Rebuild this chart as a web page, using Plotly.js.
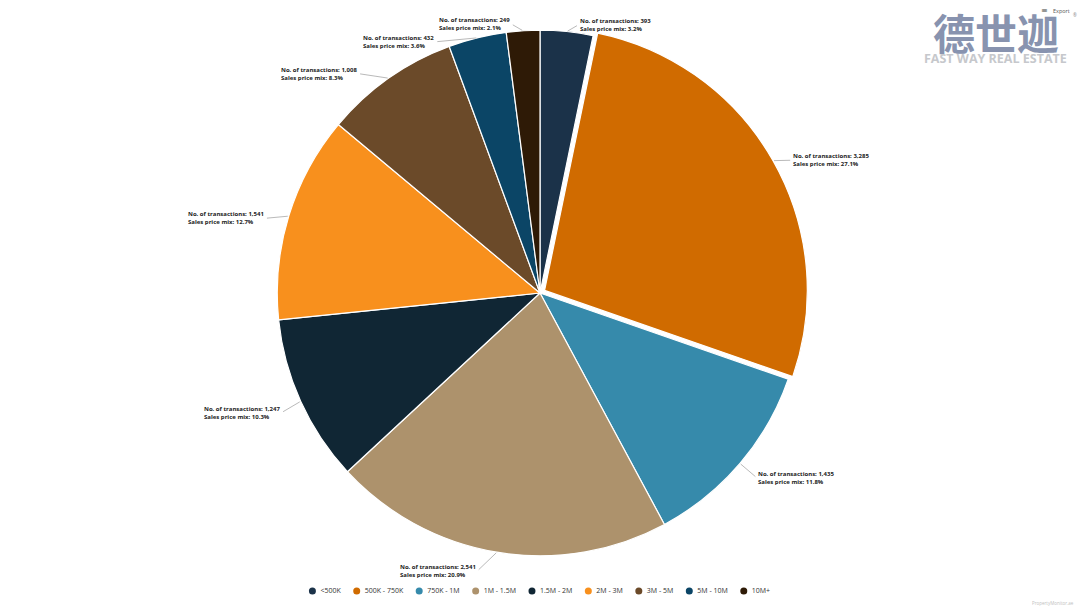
<!DOCTYPE html>
<html>
<head>
<meta charset="utf-8">
<script src="https://cdn.plot.ly/plotly-3.0.1.min.js"></script>
<style>html,body{margin:0;padding:0;background:#fff;}#chart{width:1080px;height:608px;}</style>
</head>
<body>
<div id="chart"></div>
<script>
var categories = ["<500K", "500K - 750K", "750K - 1M", "1M - 1.5M", "1.5M - 2M", "2M - 3M", "3M - 5M", "5M - 10M", "10M+"];
var transactions = [393, 3285, 1435, 2541, 1247, 1541, 1008, 432, 249];
var priceMix = [3.2, 27.1, 11.8, 20.9, 10.3, 12.7, 8.3, 3.6, 2.1];
var colors = ["#1b3249", "#d06b00", "#368aab", "#ad926c", "#102634", "#f8901d", "#6b4a29", "#0b4566", "#2e1a06"];
var pulls = [0, 0.02, 0, 0, 0, 0, 0, 0, 0];

var W = 1080, H = 608;
var pieTop = 25, pieBottom = 561;
var boxH = pieBottom - pieTop;
var maxPull = Math.max.apply(null, pulls);
var R = Math.min(W, boxH) / (2 * (1 + maxPull));
var cx = W / 2, cy = (pieTop + pieBottom) / 2;

function fmt(n) { return n.toLocaleString('en-US'); }

// ---- outside labels, positioned from the slice angles ----
var total = transactions.reduce(function (a, b) { return a + b; }, 0);
var cum = 0;
var info = [];
transactions.forEach(function (v, i) {
  var mid = (cum + v / 2) / total * 2 * Math.PI;
  cum += v;
  var s = Math.sin(mid), c = Math.cos(mid);
  var off = pulls[i] * R;
  var ex = cx + (R + off) * s, ey = cy - (R + off) * c;
  var ly = cy - (R + off + 13) * c + 6;
  info.push({i: i, s: s, ex: ex, ey: ey, ly: ly, ly0: ly});
});
[1, -1].forEach(function (side) {
  var items = info.filter(function (d) { return side > 0 ? d.s >= 0 : d.s < 0; });
  items.sort(function (a, b) { return a.ly - b.ly; });
  var prev = -Infinity;
  items.forEach(function (d) {
    d.ly = Math.max(d.ly, 21, prev + 18);
    prev = d.ly;
  });
});
var RL = 285;
var annotations = info.map(function (d) {
  var right = d.s >= 0;
  var dy = d.ly - cy;
  var circ = Math.sqrt(Math.max(0, RL * RL - dy * dy));
  var edx = Math.abs(d.ex - cx);
  var pushed = d.ly - d.ly0 > 1;
  var dx;
  if (pushed) dx = (circ + edx + 12) / 2;
  else if (circ > edx + 40) dx = edx + 12;
  else dx = circ;
  var tx = cx + (right ? dx : -dx);
  return {
    xref: 'x', yref: 'y', x: d.ex, y: d.ey,
    ax: tx - d.ex, ay: d.ly - d.ey,
    showarrow: true, arrowhead: 0, arrowwidth: 0.6, arrowcolor: '#8a8a8a',
    standoff: 1, startstandoff: 2,
    xanchor: right ? 'left' : 'right', yanchor: 'middle', align: 'left',
    borderpad: 0,
    text: '<b>No. of transactions: ' + fmt(transactions[d.i]) + '<br>Sales price mix: ' + priceMix[d.i].toFixed(1) + '%</b>',
    font: {family: 'Open Sans, sans-serif', size: 6, color: '#222'}
  };
});

// ---- logo and small texts ----
annotations.push({xref: 'x', yref: 'y', x: 996, y: 31, xanchor: 'center', yanchor: 'middle', showarrow: false, borderpad: 0,
  text: '<b>德世迦</b>', font: {family: 'Noto Sans CJK SC, sans-serif', size: 42, weight: 900, color: '#8893af'}});
annotations.push({xref: 'x', yref: 'y', x: 995, y: 58, xanchor: 'center', yanchor: 'middle', showarrow: false, borderpad: 0,
  text: '<b>FAST WAY REAL ESTATE</b>', font: {family: 'Open Sans, sans-serif', size: 12.5, color: '#c6c8cc'}});
annotations.push({xref: 'x', yref: 'y', x: 1052, y: 11, xanchor: 'left', yanchor: 'middle', showarrow: false, borderpad: 0,
  text: 'Export', font: {family: 'Open Sans, sans-serif', size: 5.5, color: '#555'}});
annotations.push({xref: 'x', yref: 'y', x: 1044, y: 10, xanchor: 'center', yanchor: 'middle', showarrow: false, borderpad: 0,
  text: '≡', font: {family: 'DejaVu Sans, sans-serif', size: 8, color: '#444'}});
annotations.push({xref: 'x', yref: 'y', x: 1075, y: 15, xanchor: 'center', yanchor: 'middle', showarrow: false, borderpad: 0,
  text: '®', font: {family: 'Open Sans, sans-serif', size: 4.5, color: '#888'}});
annotations.push({xref: 'x', yref: 'y', x: 1076, y: 603, xanchor: 'right', yanchor: 'middle', showarrow: false,
  text: 'PropertyMonitor.ae', font: {family: 'Open Sans, sans-serif', size: 4.5, color: '#c0c0c0'}});

// ---- legend (circle markers), laid out from measured text widths ----
var legendFont = 7;
var ctx = document.createElement('canvas').getContext('2d');
ctx.font = legendFont + 'px "Open Sans"';
var tw = categories.map(function (c) { return ctx.measureText(c).width; });
var gapText = 9, strideExtra = 24;
var span = 0;
for (var k = 0; k < categories.length - 1; k++) span += tw[k] + strideExtra;
span += gapText + tw[tw.length - 1] + 3.5;
var startX = cx - span / 2 + 3.5;
var legX = [], pos = startX;
categories.forEach(function (c, i) { legX.push(pos); pos += tw[i] + strideExtra; });
var legY = categories.map(function () { return 591; });

var pie = {
  type: 'pie',
  labels: categories,
  values: transactions,
  sort: false,
  direction: 'clockwise',
  rotation: 0,
  pull: pulls,
  textinfo: 'none',
  marker: {colors: colors, line: {color: '#ffffff', width: 1.2}},
  showlegend: false,
  domain: {x: [0, 1], y: [(H - pieBottom) / H, (H - pieTop) / H]}
};
var legMarkers = {
  type: 'scatter', mode: 'markers', x: legX, y: legY,
  marker: {symbol: 'circle', size: 7, color: colors}, showlegend: false, cliponaxis: false, hoverinfo: 'skip'
};
var legText = {
  type: 'scatter', mode: 'text', x: legX.map(function (x) { return x + gapText - 1; }), y: legY,
  text: categories, textposition: 'middle right',
  textfont: {family: 'Open Sans, sans-serif', size: legendFont, color: '#333'},
  showlegend: false, cliponaxis: false, hoverinfo: 'skip'
};

var layout = {
  width: W, height: H,
  margin: {l: 0, r: 0, t: 0, b: 0},
  paper_bgcolor: '#ffffff', plot_bgcolor: '#ffffff',
  xaxis: {visible: false, range: [0, W], domain: [0, 1], fixedrange: true},
  yaxis: {visible: false, range: [H, 0], domain: [0, 1], fixedrange: true},
  showlegend: false,
  annotations: annotations
};

Plotly.newPlot('chart', [legMarkers, legText, pie], layout, {displayModeBar: false, staticPlot: true});
</script>
</body>
</html>
